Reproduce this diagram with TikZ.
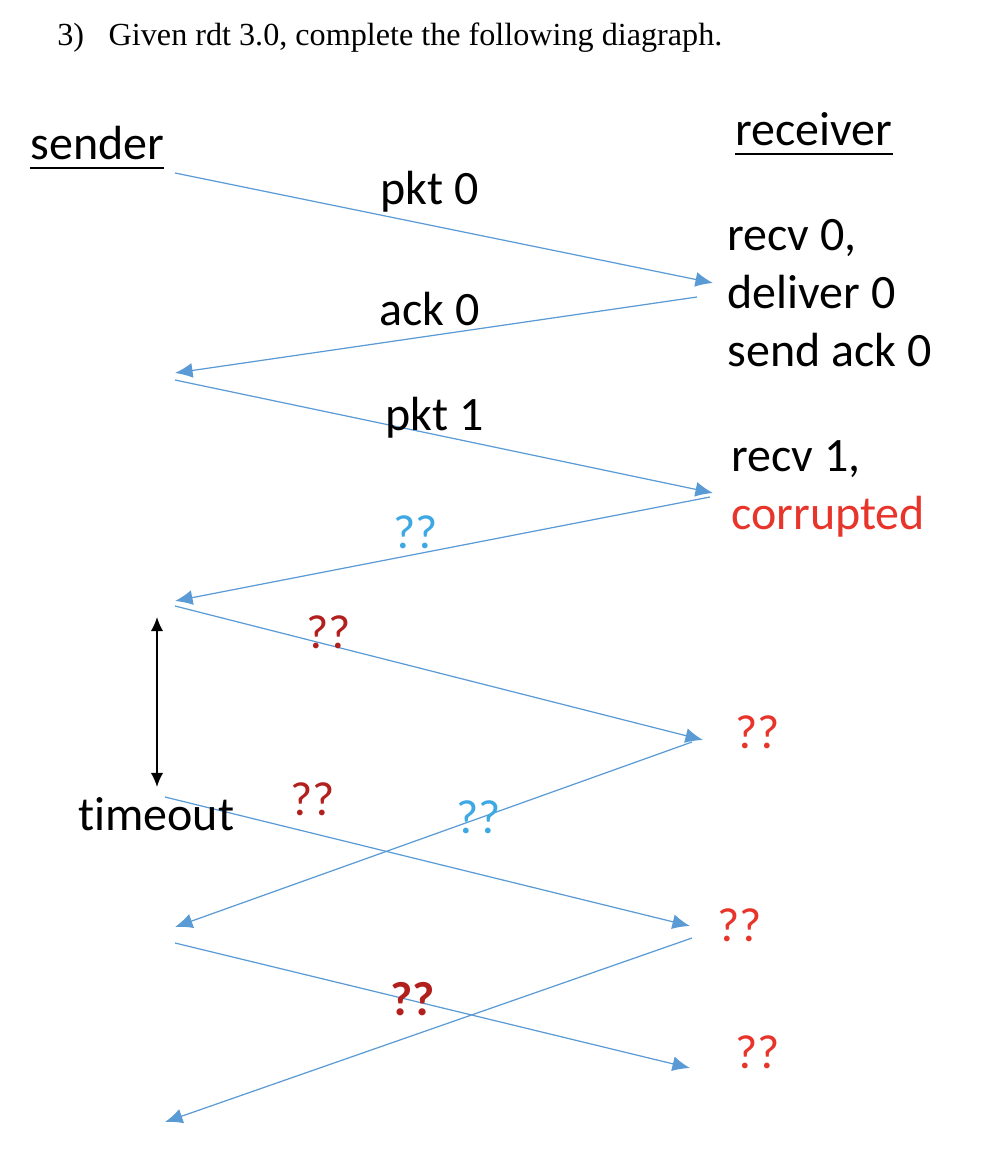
\documentclass[tikz,border=0pt]{standalone}
\usepackage{fontspec}
\setmainfont{Liberation Serif}
\newfontfamily\calib[Ligatures=NoCommon]{Carlito}
\usetikzlibrary{arrows.meta,positioning}
\definecolor{msgblue}{RGB}{91,155,213}
\definecolor{qblue}{RGB}{61,168,228}
\definecolor{qdark}{RGB}{178,32,30}
\definecolor{qred}{RGB}{232,53,43}
\tikzset{
	msg/.style={draw=msgblue, line width=0.7pt, -{Latex[length=10pt,width=8.5pt]}},
	lbl/.style={inner sep=0pt, anchor=base west, font=\calib\fontsize{27.3}{33}\selectfont},
	ulbar/.style={line width=1.3pt},
}

\begin{document}
\begin{tikzpicture}[x=0.2mm,y=-0.2mm]
		\useasboundingbox (0,0) rectangle (990,1152);
		\node[inner sep=0pt, anchor=base west, font=\fontsize{18.3}{22}\selectfont] (title) at (57,46) {3)\hspace{14pt}Given rdt 3.0, complete the following diagraph.};
		\node[lbl] (snd) at (30,160) {sender};
		\node[lbl] (rcv) at (735,146) {receiver};
		\draw[ulbar] ([yshift=-4.5pt]snd.base west) -- ([yshift=-4.5pt]snd.base east);
		\draw[ulbar] ([yshift=-4.5pt]rcv.base west) -- ([yshift=-4.5pt]rcv.base east);
		\coordinate (s1) at (175,173);
		\coordinate (r1) at (713,283);
		\coordinate (r1b) at (697,297);
		\coordinate (s2) at (175,373);
		\coordinate (s2b) at (175,380);
		\coordinate (r2) at (713,493);
		\coordinate (r2b) at (710,497);
		\coordinate (s3) at (175,601);
		\coordinate (s3b) at (175,606);
		\coordinate (r3) at (703,740);
		\coordinate (r3b) at (692,742);
		\coordinate (s4) at (165,797);
		\coordinate (r4) at (690,926);
		\coordinate (r4b) at (692,938);
		\coordinate (s5) at (175,927);
		\coordinate (s5b) at (175,943);
		\coordinate (r5) at (690,1068);
		\coordinate (s6) at (165,1122);
		\coordinate (tt) at (157,617);
		\coordinate (tb) at (157,787);
		\draw[msg] (s1) -- (r1);
		\draw[msg] (r1b) -- (s2);
		\draw[msg] (s2b) -- (r2);
		\draw[msg] (r2b) -- (s3);
		\draw[msg] (s3b) -- (r3);
		\draw[msg] (s4) -- (r4);
		\draw[msg] (r3b) -- (s5);
		\draw[msg] (s5b) -- (r5);
		\draw[msg] (r4b) -- (s6);
		\draw[{Latex[length=8pt,width=7pt]}-{Latex[length=8pt,width=7pt]}, line width=0.9pt] (tt) -- (tb);
		\node[lbl] (p0) at (380,205) {pkt 0};
		\node[lbl] (a0) at (379,325) {ack 0};
		\node[lbl, align=left] (rv0) at (727,366) {recv 0,\\deliver 0\\send ack 0};
		\node[lbl] (p1) at (385,430) {pkt 1};
		\node[lbl, align=left] (rv1) at (731,529) {recv 1,\\\textcolor{qred}{corrupted}};
		\node[lbl, text=qblue] (q1) at (393,548) {??};
		\node[lbl, text=qdark] (q2) at (306,648) {??};
		\node[lbl, text=qred] (q3) at (735,748) {??};
		\node[lbl] (tmo) at (78,830) {timeout};
		\node[lbl, text=qdark] (q4) at (290,815) {??};
		\node[lbl, text=qblue] (q5) at (456,833) {??};
		\node[lbl, text=qred] (q6) at (717,941) {??};
		\node[lbl, text=qdark, font=\calib\bfseries\fontsize{27.3}{33}\selectfont] (q7) at (390,1015) {??};
		\node[lbl, text=qred] (q8) at (735,1068) {??};
	\end{tikzpicture}
\end{document}
